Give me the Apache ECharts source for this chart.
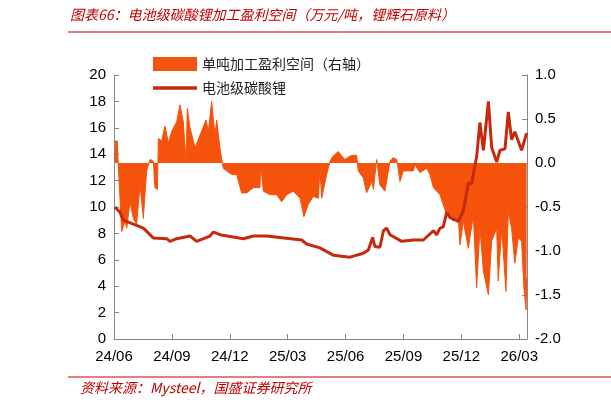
<!DOCTYPE html><html><head><meta charset="utf-8"><script src="https://cdn.jsdelivr.net/npm/echarts@6/dist/echarts.min.js"></script>
<style>body{margin:0}#c{width:611px;height:410px}</style></head><body><div id="c"></div><script>
// x positions: months since 2024-06-01
var tickLabels=['24/06','24/09','24/12','25/03','25/06','25/09','25/12','26/03'];
var priceMonths=[0.05,0.31,0.48,1.0,1.52,2.04,2.73,2.9,3.25,3.94,4.28,4.97,5.15,5.49,6.7,7.22,7.91,9.72,9.98,10.67,11.36,12.23,12.92,13.18,13.4,13.52,13.78,13.96,14.13,14.3,14.91,15.51,16.03,16.55,16.72,16.89,17.06,17.24,17.41,17.58,17.84,18.1,18.36,18.53,18.79,18.96,19.14,19.4,19.57,19.83,20.0,20.26,20.43,20.6,20.77,21.12,21.38];
var priceValues=[10.0,9.6,9.0,8.7,8.4,7.65,7.6,7.4,7.6,7.8,7.4,7.8,8.1,7.9,7.6,7.8,7.8,7.5,7.2,6.9,6.35,6.2,6.5,6.75,7.7,7.0,6.95,8.2,8.4,7.9,7.4,7.5,7.5,8.2,7.9,8.4,8.5,9.6,9.2,9.1,8.9,9.7,11.8,11.8,13.8,16.4,14.3,18.0,14.5,13.4,14.3,14.4,17.2,15.1,15.7,14.3,15.6];
var profitMonths=[0.05,0.17,0.22,0.40,0.57,0.66,0.83,1.0,1.17,1.35,1.52,1.69,1.87,2.04,2.12,2.25,2.30,2.47,2.64,2.82,2.99,3.25,3.42,3.59,3.73,3.80,3.94,4.20,4.46,4.77,4.89,5.06,5.23,5.32,5.49,5.66,5.84,6.10,6.36,6.61,6.87,7.22,7.56,7.60,7.74,8.08,8.43,8.69,8.95,9.29,9.64,9.84,10.07,10.33,10.59,10.67,10.76,11.02,11.19,11.36,11.62,11.80,11.97,12.23,12.57,12.66,12.92,13.09,13.35,13.44,13.61,13.78,14.04,14.30,14.47,14.65,14.82,14.99,15.51,15.60,15.85,16.20,16.37,16.55,16.89,17.24,17.58,17.84,17.93,18.10,18.36,18.62,18.79,18.96,19.14,19.40,19.57,19.83,19.91,20.09,20.31,20.43,20.6,20.77,20.95,21.12,21.24,21.35,21.38];
var profitValues=[0.25,0.25,-0.02,-0.78,-0.66,-0.74,-0.44,-0.63,-0.70,-0.25,-0.63,-0.09,0.04,0.02,-0.28,-0.30,0.28,0.25,0.42,0.23,0.36,0.47,0.66,0.47,0.02,0.62,0.40,0.17,0.32,0.49,0.36,0.70,0.32,0.49,0.17,-0.06,-0.09,-0.13,-0.13,-0.34,-0.34,-0.28,-0.28,-0.02,-0.32,-0.36,-0.36,-0.44,-0.36,-0.32,-0.40,-0.61,-0.47,-0.38,-0.40,-0.06,-0.40,-0.13,0.02,0.08,0.13,0.08,0.04,0.08,0.09,-0.09,-0.17,-0.34,-0.21,-0.30,0.04,-0.25,-0.32,0.02,0.06,0.04,-0.21,-0.09,-0.09,-0.02,-0.11,-0.06,-0.13,-0.28,-0.36,-0.59,-0.66,-0.63,-0.93,-0.66,-0.97,-0.59,-1.42,-0.74,-1.23,-1.50,-0.89,-0.74,-1.34,-0.74,-1.46,-0.55,-0.74,-1.14,-0.85,-0.89,-1.42,-1.67,-1.31];
function zip(a,b){return a.map(function(x,i){return [x,b[i]];});}
var F='"Noto Sans CJK SC","DejaVu Sans",sans-serif';
var axisLine={lineStyle:{color:'#888'}};
var c=echarts.init(document.getElementById('c'));
c.setOption({
 animation:false,
 graphic:[
  {type:'text',left:70,top:8,style:{text:'图表66：电池级碳酸锂加工盈利空间（万元/吨，锂辉石原料）',fill:'#C00000',font:'italic 14px '+F}},
  {type:'line',shape:{x1:68,y1:32,x2:611,y2:32},style:{stroke:'#C00000',lineWidth:1}},
  {type:'line',shape:{x1:68,y1:377,x2:611,y2:377},style:{stroke:'#C00000',lineWidth:1}},
  {type:'text',left:80,top:381,style:{text:'资料来源：Mysteel，国盛证券研究所',fill:'#C00000',font:'italic 14px '+F}}
 ],
 legend:{left:148,top:52,orient:'vertical',itemGap:10,itemWidth:44,itemHeight:14,textStyle:{fontSize:14,fontFamily:F,color:'#222'},
   data:[{name:'单吨加工盈利空间（右轴）',icon:'rect'},{name:'电池级碳酸锂',icon:'path://M0,0h44v3.5h-44z'}]},
 grid:{left:114,right:84,top:75,bottom:71},
 xAxis:{type:'value',min:0,max:21.4,interval:3,axisLine:axisLine,splitLine:{show:false},
  axisTick:{inside:true,lineStyle:{color:'#888'}},
  axisLabel:{showMaxLabel:false,fontSize:15,color:'#000',fontFamily:'"Liberation Sans"',margin:10,formatter:function(v){return tickLabels[Math.round(v/3)]||'';}}},
 yAxis:[
  {type:'value',min:0,max:20,interval:2,axisLine:{show:true,lineStyle:{color:'#888'}},axisTick:{show:true,inside:true,lineStyle:{color:'#888'}},splitLine:{show:false},axisLabel:{fontSize:15,color:'#000',fontFamily:'"Liberation Sans"'}},
  {type:'value',min:-2,max:1,interval:0.5,axisLine:{show:true,lineStyle:{color:'#888'}},axisTick:{show:true,inside:true,lineStyle:{color:'#888'}},splitLine:{show:false},axisLabel:{fontSize:15,color:'#000',fontFamily:'"Liberation Sans"',formatter:function(v){return v.toFixed(1);}}}
 ],
 series:[
  {name:'单吨加工盈利空间（右轴）',type:'line',yAxisIndex:1,data:zip(profitMonths,profitValues),showSymbol:false,
   lineStyle:{width:1,color:'#F5520C'},itemStyle:{color:'#F5520C'},areaStyle:{color:'#F5520C',opacity:1}},
  {name:'电池级碳酸锂',type:'line',yAxisIndex:0,data:zip(priceMonths,priceValues),showSymbol:false,
   lineStyle:{width:3,color:'#C52A0E'},itemStyle:{color:'#C52A0E'}}
 ]
});
</script></body></html>
